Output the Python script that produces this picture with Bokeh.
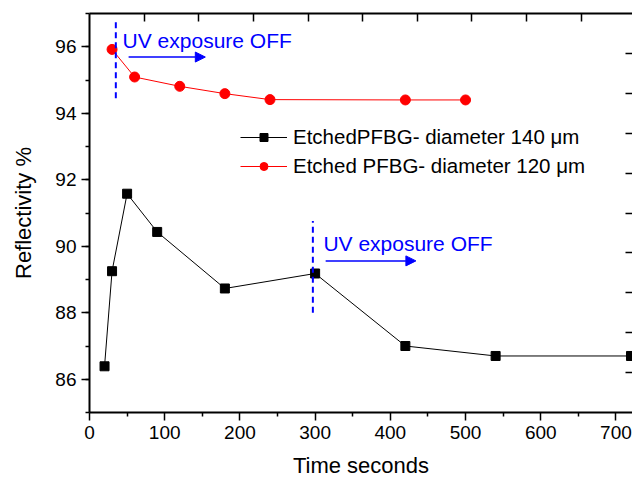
from bokeh.plotting import figure
from bokeh.models import (Range1d, LinearAxis, FixedTicker, SingleIntervalTicker,
                          Arrow, NormalHead, Label)
from bokeh.embed import file_html
from bokeh.resources import INLINE

# ---- data ----
time_140 = [20, 30, 50, 90, 180, 300, 420, 540, 720]
refl_140 = [86.39, 89.25, 91.58, 90.43, 88.73, 89.18, 87.00, 86.70, 86.70]
time_120 = [30, 60, 120, 180, 240, 420, 500]
refl_120 = [95.92, 95.09, 94.81, 94.59, 94.41, 94.40, 94.40]

label_140 = "EtchedPFBG- diameter 140 \u03bcm"
label_120 = "Etched PFBG- diameter 120 \u03bcm"
x_ticks = [0, 100, 200, 300, 400, 500, 600, 700]
x_minor = [50, 150, 250, 350, 450, 550, 650]

# annotation anchors (data units)
uv_off_1 = dict(x=35, y0=94.45, y1=96.8, tx=44, ty=96.2, ax0=52, ax1=154, ay=95.69)
uv_off_2 = dict(x=297, y0=88.0, y1=90.76, tx=311, ty=90.09, ax0=314, ax1=434, ay=89.56)

FONT = "Liberation Sans"
BLUE = "#0000ff"

p = figure(width=632, height=480, x_range=Range1d(0, 722), y_range=Range1d(85, 97),
           output_backend="svg", toolbar_location=None,
           min_border_left=89, min_border_right=0, min_border_top=13, min_border_bottom=68)
p.grid.visible = False
p.outline_line_color = None
p.background_fill_color = "white"
p.border_fill_color = "white"

for ax in (p.xaxis[0], p.yaxis[0]):
    ax.axis_line_width = 2
    ax.axis_line_color = "black"
    ax.major_tick_line_width = 1.5
    ax.minor_tick_line_width = 1.5
    ax.major_tick_in = 0
    ax.major_tick_out = 8
    ax.minor_tick_in = 0
    ax.minor_tick_out = 4
    ax.major_label_text_font = FONT
    ax.major_label_text_font_size = "19px"
    ax.major_label_text_color = "black"
    ax.axis_label_text_font = FONT
    ax.axis_label_text_font_size = "22px"
    ax.axis_label_text_font_style = "normal"
    ax.axis_label_text_color = "black"

p.xaxis[0].ticker = FixedTicker(ticks=x_ticks, minor_ticks=x_minor)
p.yaxis[0].ticker = SingleIntervalTicker(interval=2, num_minor_ticks=2)
p.xaxis[0].axis_label = "Time seconds"
p.yaxis[0].axis_label = "Reflectivity %"
p.xaxis[0].axis_label_standoff = 11
p.xaxis[0].major_label_standoff = 5
p.yaxis[0].axis_label_standoff = 16
p.yaxis[0].major_label_standoff = 5

# decorative top / right frame axes (ticks only, no labels drawn)
p.extra_x_ranges = {"top": Range1d(0, 9.94)}
p.extra_y_ranges = {"right": Range1d(0, 10)}
top = LinearAxis(x_range_name="top", ticker=FixedTicker(ticks=list(range(1, 10))),
                 major_tick_in=8, major_tick_out=0, minor_tick_in=0, minor_tick_out=0,
                 major_label_text_font_size="1px", major_label_text_color=None,
                 major_label_standoff=0, axis_line_width=2, major_tick_line_width=1.5)
right = LinearAxis(y_range_name="right", ticker=FixedTicker(ticks=list(range(1, 10))),
                   major_tick_in=7, major_tick_out=0, minor_tick_in=0, minor_tick_out=0,
                   major_label_text_font_size="1px", major_label_text_color=None,
                   major_label_standoff=0, axis_line_color=None, major_tick_line_width=1.5)
p.add_layout(top, "above")
p.add_layout(right, "right")

# series
p.line(time_140, refl_140, line_color="black", line_width=1, legend_label=label_140)
p.scatter(time_140, refl_140, marker="square", size=9, fill_color="black",
          line_color="black", legend_label=label_140)
p.line(time_120, refl_120, line_color="red", line_width=1, legend_label=label_120)
p.scatter(time_120, refl_120, marker="circle", size=10, fill_color="red",
          line_color="red", legend_label=label_120)

# annotations
for a in (uv_off_1, uv_off_2):
    p.segment(x0=[a["x"]], y0=[a["y0"]], x1=[a["x"]], y1=[a["y1"]],
              line_color=BLUE, line_width=2, line_dash="6 4")
    p.add_layout(Arrow(end=NormalHead(size=10, fill_color=BLUE, line_color=BLUE),
                       x_start=a["ax0"], y_start=a["ay"], x_end=a["ax1"], y_end=a["ay"],
                       line_color=BLUE, line_width=1.5))
    p.add_layout(Label(x=a["tx"], y=a["ty"], text="UV exposure OFF", text_color=BLUE,
                       text_font=FONT, text_font_size="21px", text_baseline="alphabetic"))

lg = p.legend[0]
lg.location = (151, 232)
lg.glyph_width = 47
lg.glyph_height = 20
lg.label_height = 29
lg.label_standoff = 6
lg.padding = 0
lg.margin = 0
lg.spacing = 0
lg.border_line_color = None
lg.background_fill_alpha = 0
lg.label_text_font = FONT
lg.label_text_font_size = "20.5px"
lg.label_text_color = "black"

open("out.html", "w").write(file_html(p, INLINE))
